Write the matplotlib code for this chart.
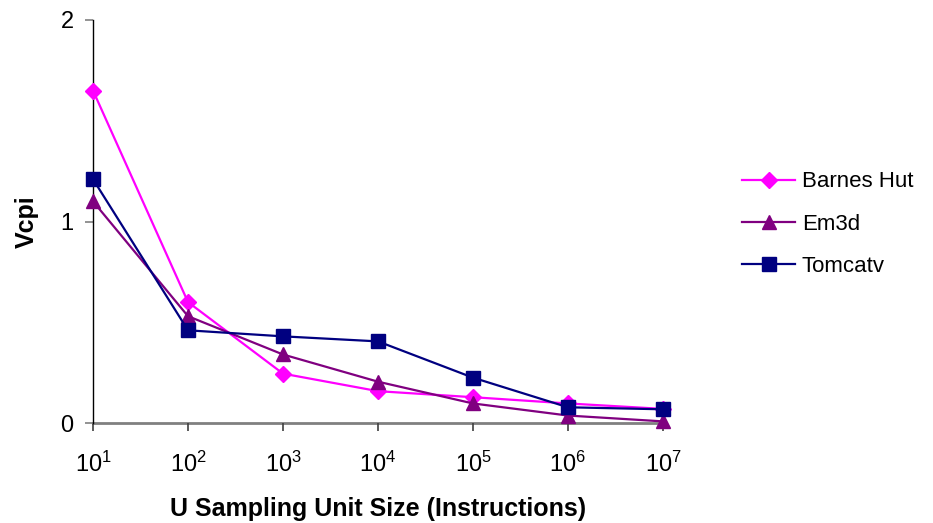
import matplotlib.pyplot as plt

plt.rcParams['font.family'] = ['Liberation Sans', 'DejaVu Sans']
plt.rcParams['mathtext.fontset'] = 'custom'
plt.rcParams['mathtext.rm'] = 'Liberation Sans'
plt.rcParams['mathtext.it'] = 'Liberation Sans'

# categories: sampling unit size exponents
exponents = [1, 2, 3, 4, 5, 6, 7]
tick_labels = [f'$10^{{{e}}}$' for e in exponents]

barnes_hut = [1.65, 0.60, 0.245, 0.158, 0.128, 0.097, 0.070]
em3d = [1.10, 0.53, 0.34, 0.205, 0.097, 0.037, 0.008]
tomcatv = [1.21, 0.46, 0.43, 0.405, 0.225, 0.078, 0.068]

fig = plt.figure(figsize=(9.33, 5.23), dpi=100, facecolor='white')
ax = fig.add_axes([93 / 933, 100 / 523, 570 / 933, 403 / 523])

x = list(range(len(exponents)))
ax.plot(x, barnes_hut, '-D', color='#FF00FF', lw=1.6, ms=8, label='Barnes Hut',
        clip_on=False, zorder=3)
ax.plot(x, em3d, '-^', color='#800080', lw=1.6, ms=10, label='Em3d',
        clip_on=False, zorder=3)
ax.plot(x, tomcatv, '-s', color='#000080', lw=1.6, ms=9.5, label='Tomcatv',
        clip_on=False, zorder=3)

ax.set_xlim(0, len(x) - 1)
ax.set_ylim(0, 2)
ax.set_xticks(x)
ax.set_xticklabels(tick_labels)
ax.set_yticks([0, 1, 2])

for sp in ['top', 'right']:
    ax.spines[sp].set_visible(False)
ax.spines['left'].set_color('black')
ax.spines['left'].set_linewidth(1.0)
ax.spines['bottom'].set_color('#808080')
ax.spines['bottom'].set_linewidth(2.0)
ax.spines['bottom'].set_zorder(1)

ax.tick_params(axis='x', direction='out', length=6, width=1.2, color='#404040',
               pad=15, labelsize=17)
ax.tick_params(axis='y', direction='out', length=6, width=1.2, color='#808080',
               pad=8, labelsize=17)

ax.set_xlabel('U Sampling Unit Size (Instructions)', fontsize=18, fontweight='bold',
              labelpad=14)
ax.set_ylabel('Vcpi', fontsize=18, fontweight='bold')
ax.yaxis.set_label_coords(-54 / 570, 0.5)

fig.legend(loc='center left', bbox_to_anchor=(733 / 933, 299 / 523), frameon=False,
           fontsize=16, handlelength=2.4, handletextpad=0.3, labelspacing=0.95,
           borderaxespad=0)

fig.savefig('out.png', dpi=100, facecolor='white')
